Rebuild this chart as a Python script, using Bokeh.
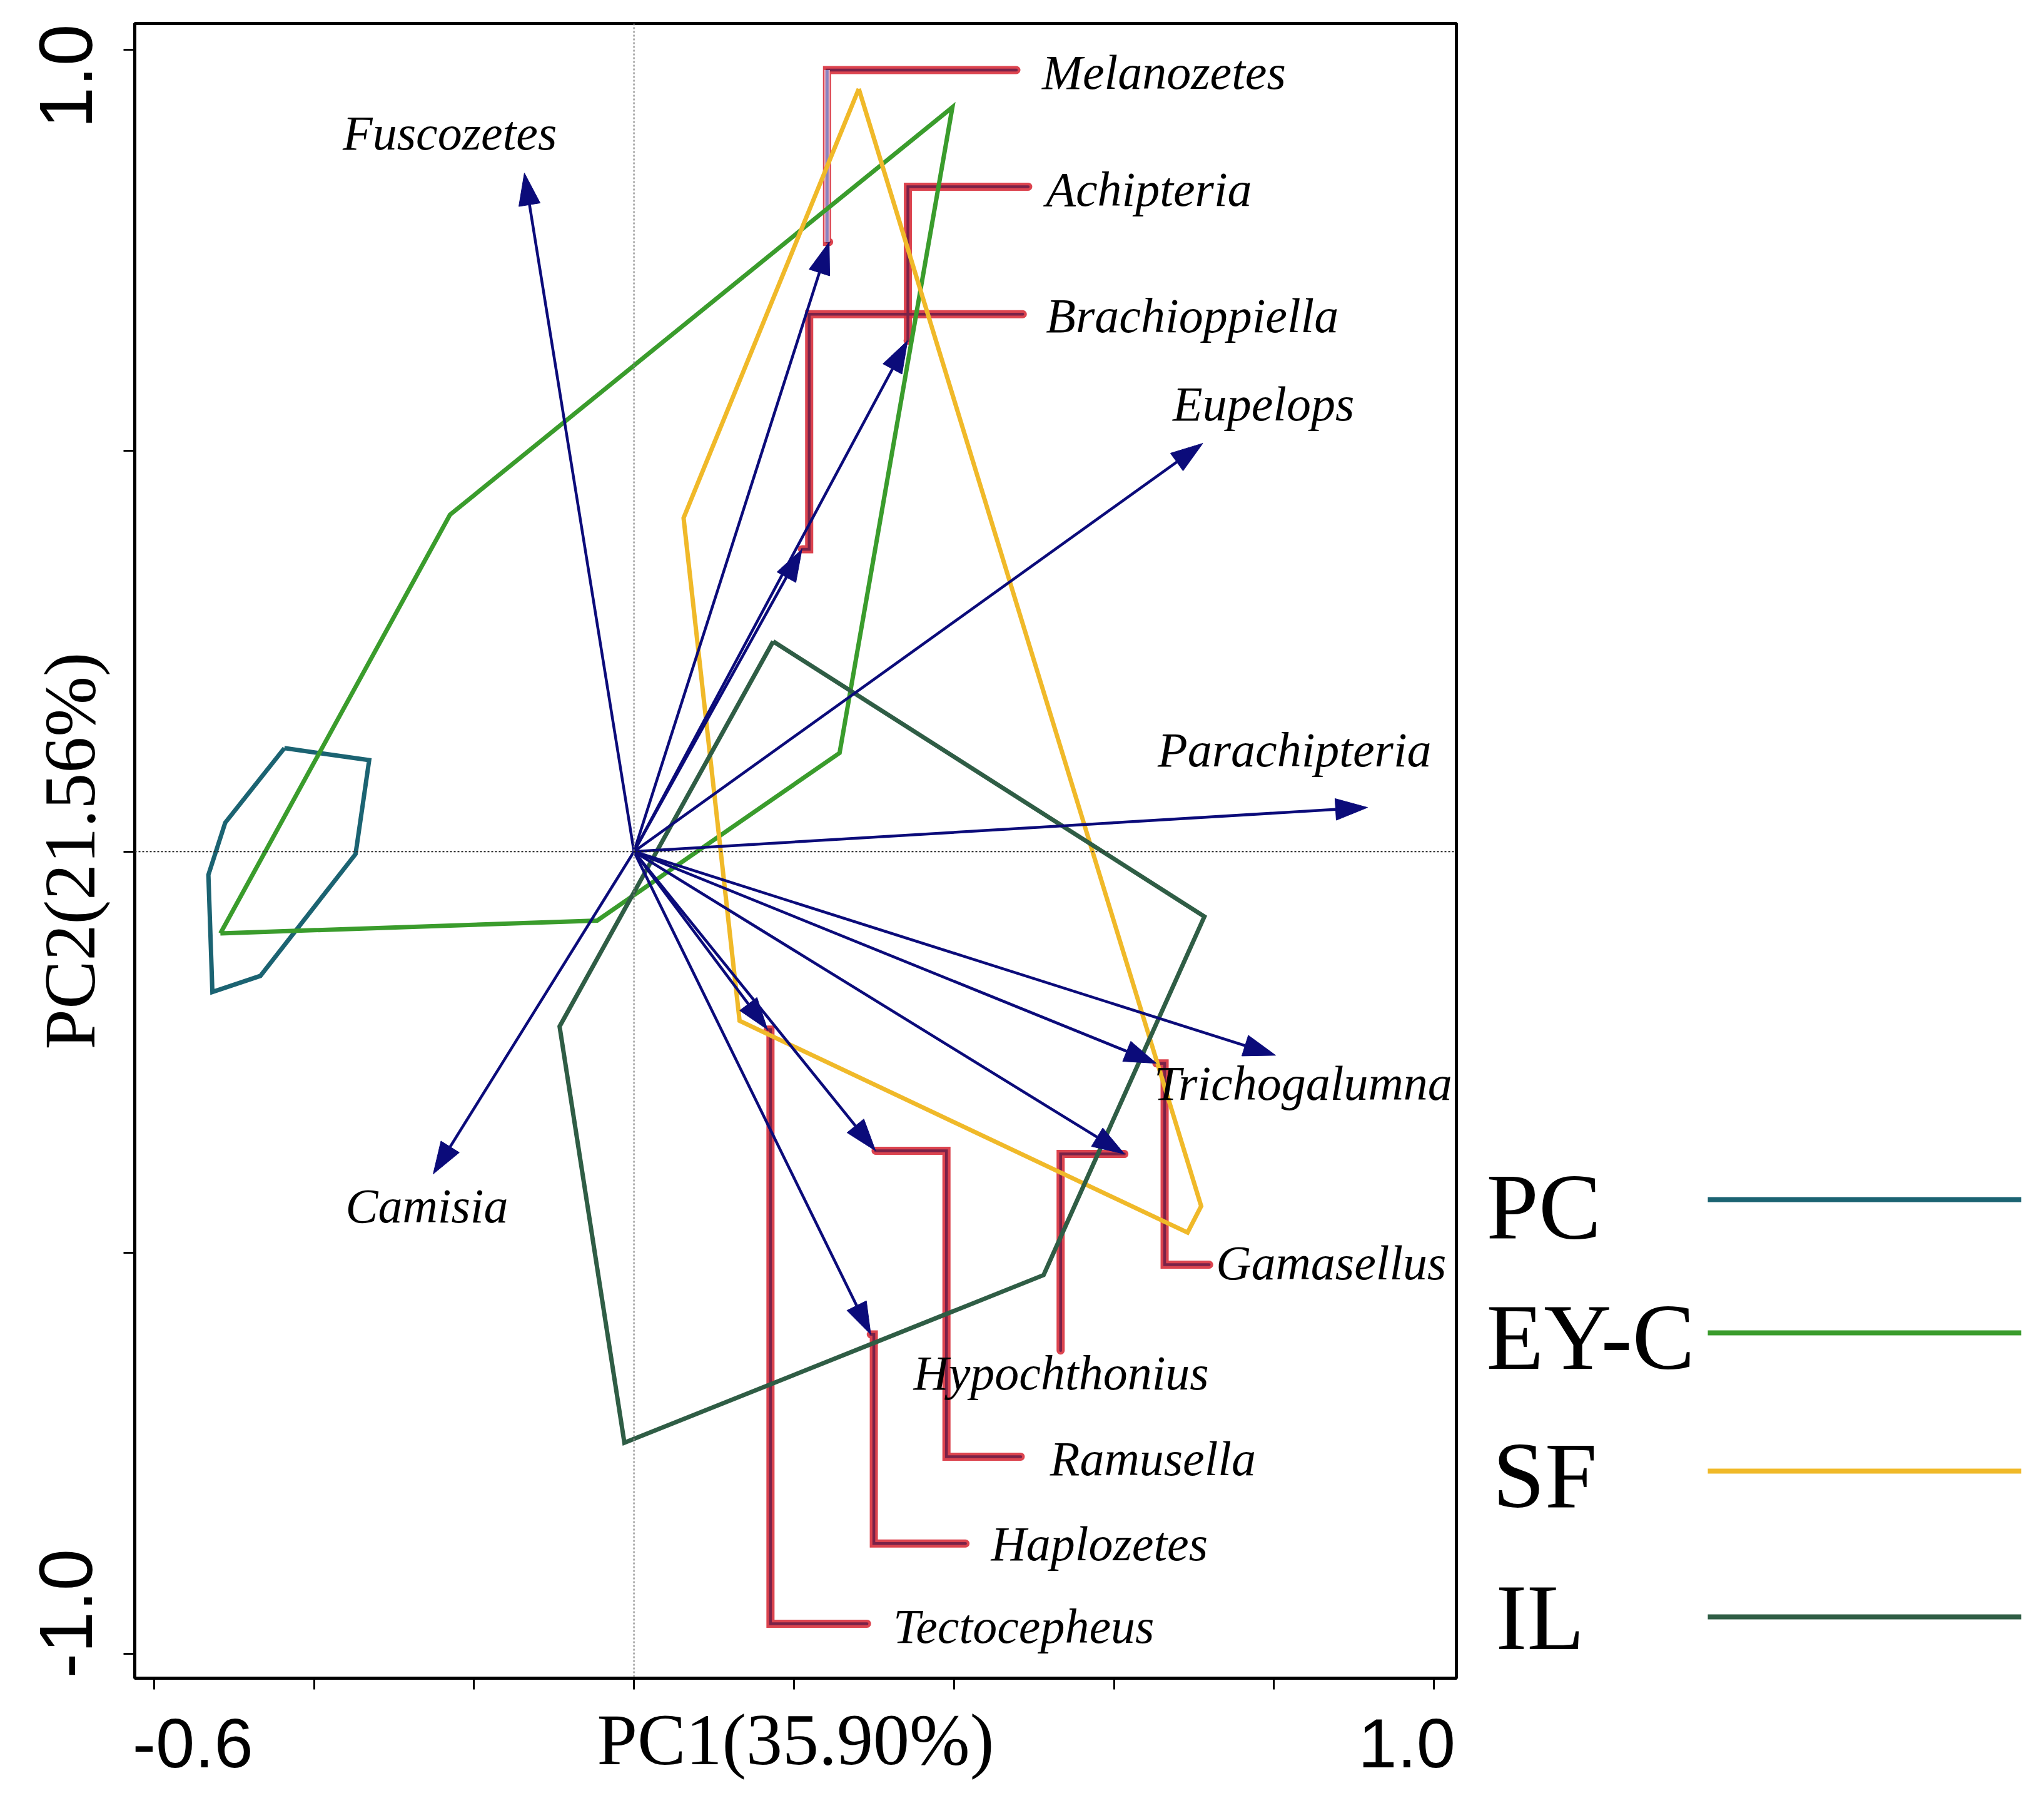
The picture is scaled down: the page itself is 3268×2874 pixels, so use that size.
import numpy as np
from bokeh.plotting import figure
from bokeh.layouts import row
from bokeh.models import (Range1d, FixedTicker, Span, LabelSet,
                          ColumnDataSource, LinearAxis)
from bokeh.core.properties import value
from bokeh.embed import file_html
from bokeh.resources import INLINE

# ---------------- data ----------------
species = ["Melanozetes", "Achipteria", "Brachioppiella", "Eupelops",
           "Parachipteria", "Trichogalumna", "Gamasellus", "Hypochthonius",
           "Ramusella", "Haplozetes", "Tectocepheus", "Camisia", "Fuscozetes"]
pc1 = [0.244, 0.342, 0.210, 0.711, 0.917, 0.802, 0.653, 0.613,
       0.302, 0.296, 0.167, -0.251, -0.137]
pc2 = [0.760, 0.637, 0.377, 0.509, 0.055, -0.254, -0.264, -0.377,
       -0.373, -0.602, -0.222, -0.402, 0.846]

groups = ["PC", "EY-C", "SF", "IL"]
group_colors = ["#1b6372", "#3a9c2c", "#f0b929", "#2f5d45"]
pc_hull_x = [-0.437, -0.331, -0.348, -0.467, -0.527, -0.532, -0.511]
pc_hull_y = [0.129, 0.114, -0.003, -0.155, -0.175, -0.029, 0.036]
eyc_hull_x = [-0.517, -0.230, 0.398, 0.257, -0.046]
eyc_hull_y = [-0.102, 0.420, 0.928, 0.123, -0.086]
sf_hull_x = [0.281, 0.709, 0.692, 0.132, 0.062]
sf_hull_y = [0.951, -0.442, -0.475, -0.211, 0.416]
il_hull_x = [0.174, 0.713, 0.512, -0.012, -0.093]
il_hull_y = [0.262, -0.081, -0.528, -0.737, -0.218]

x_ticks = [-0.6, -0.4, -0.2, 0.0, 0.2, 0.4, 0.6, 0.8, 1.0]
y_ticks = [-1.0, -0.5, 0.0, 0.5, 1.0]
x_tick_labels = ["-0.6", "1.0"]
y_tick_labels = ["1.0", "-1.0"]

# ---------------- label layout ----------------
x_label_pos = [-0.5515, 0.966]      # where the x tick texts sit
y_label_pos = [0.9666, -0.950]      # where the y tick texts sit
label_x = [0.510, 0.515, 0.515, 0.6735, 0.6547, 0.650, 0.7275, 0.3493,
           0.520, 0.4463, 0.324, -0.3606, -0.364]
label_y = [0.972, 0.826, 0.668, 0.558, 0.127, -0.289, -0.5125, -0.650,
           -0.757, -0.8627, -0.966, -0.442, 0.896]
# leader lines: species index, vertical column x, row y, end x
lead_idx = [0, 1, 2, 6, 7, 8, 9, 10]
lead_col = [0.2413, 0.3424, 0.219, 0.6633, 0.5333, 0.3906, 0.2998, 0.1706]
lead_row = [0.9744, 0.829, 0.670, -0.515, -0.622, -0.7544, -0.8627, -0.9627]
lead_end = [0.478, 0.4928, 0.486, 0.719, 0.5333, 0.4834, 0.4144, 0.2913]

# ---------------- main figure ----------------
BL, FW, BR = 215, 2113, 10
BT, FH, BB = 37, 2645, 175
MAIN_W = BL + FW + BR
p = figure(frame_width=FW, frame_height=FH,
           x_range=Range1d(-0.624, 1.028), y_range=Range1d(-1.0306, 1.0325),
           output_backend="svg", toolbar_location=None,
           min_border_left=BL, min_border_right=BR,
           min_border_top=BT, min_border_bottom=BB)
p.xgrid.visible = False
p.ygrid.visible = False
p.outline_line_color = "black"
p.outline_line_width = 5
p.outline_line_alpha = 1.0
p.background_fill_color = "white"
p.border_fill_color = "white"

# primary axes: tick marks only
for ax, ticks in ((p.xaxis[0], x_ticks), (p.yaxis[0], y_ticks)):
    ax.ticker = FixedTicker(ticks=ticks)
    ax.major_label_overrides = {t: "" for t in ticks}
    ax.major_label_text_font_size = "2px"
    ax.major_label_standoff = 0
    ax.minor_tick_line_color = None
    ax.major_tick_in = 0
    ax.major_tick_out = 18
    ax.major_tick_line_width = 3
    ax.major_tick_line_color = "black"
    ax.axis_line_width = 5
    ax.axis_line_color = "black"

# secondary axes: tick texts and axis titles
def label_axis(pos, texts, title, orient):
    a = LinearAxis(ticker=FixedTicker(ticks=pos),
                   major_label_overrides=dict(zip(pos, texts)))
    a.axis_line_color = None
    a.major_tick_line_color = None
    a.minor_tick_line_color = None
    a.major_tick_out = 0
    a.major_tick_in = 0
    a.major_label_text_font = "Liberation Sans"
    a.major_label_text_color = "black"
    a.major_label_orientation = orient
    a.axis_label = title
    a.axis_label_text_font = "Liberation Serif"
    a.axis_label_text_font_style = "normal"
    a.axis_label_text_font_size = "116px"
    a.axis_label_text_color = "black"
    return a

xax = label_axis(x_label_pos, x_tick_labels, "PC1(35.90%)", "horizontal")
xax.major_label_text_font_size = "112px"
xax.major_label_standoff = 47
xax.axis_label_standoff = -111
p.add_layout(xax, "below")

yax = label_axis(y_label_pos, y_tick_labels, "PC2(21.56%)", "vertical")
yax.major_label_text_font_size = "120px"
yax.major_label_standoff = 50
yax.axis_label_standoff = -114
p.add_layout(yax, "left")

# dotted zero lines
p.add_layout(Span(location=0, dimension="height", line_color="#808080",
                  line_width=2, line_dash="3 3"))
p.add_layout(Span(location=0, dimension="width", line_color="#202020",
                  line_width=2, line_dash="3 3"))

# leader lines
px = np.array(pc1)
py = np.array(pc2)
lead_xs, lead_ys = [], []
for i, cx, ry, ex in zip(lead_idx, lead_col, lead_row, lead_end):
    lead_xs.append([px[i], cx, cx, ex])
    lead_ys.append([py[i], py[i], ry, ry])
p.multi_line(lead_xs, lead_ys, line_color="#d8303c", line_width=13,
             line_cap="round", line_join="miter", line_alpha=0.9)
p.multi_line(lead_xs, lead_ys, line_color="#7a2248", line_width=4.5,
             line_cap="round", line_join="miter")
mi = lead_idx[0]
p.line([lead_col[0], lead_col[0]], [py[mi], lead_row[0]], line_color="#f2b0bc",
       line_width=9)
p.line([lead_col[0], lead_col[0]], [py[mi], lead_row[0]], line_color="#8a84c0",
       line_width=5)

# hulls
hulls = [(pc_hull_x, pc_hull_y), (eyc_hull_x, eyc_hull_y),
         (sf_hull_x, sf_hull_y), (il_hull_x, il_hull_y)]
for (hx, hy), col in zip(hulls, group_colors):
    p.line(hx + [hx[0]], hy + [hy[0]], line_color=col, line_width=7,
           line_join="miter")

# arrows
navy = "#0b0b7a"
norm = np.hypot(px, py)
dx, dy = px / norm, py / norm
L, W = 0.040, 0.0135
bx, by = px - L * dx, py - L * dy
nx, ny = -dy, dx
p.segment(x0=np.zeros_like(px), y0=np.zeros_like(py), x1=bx, y1=by,
          line_color=navy, line_width=4.5)
head_xs = [[px[i], bx[i] + W * nx[i], bx[i] - W * nx[i]] for i in range(len(px))]
head_ys = [[py[i], by[i] + W * ny[i], by[i] - W * ny[i]] for i in range(len(py))]
p.patches(head_xs, head_ys, fill_color=navy, line_color=navy, line_width=1)

# species labels
lsrc = ColumnDataSource(dict(x=label_x, y=label_y, text=species))
p.add_layout(LabelSet(x="x", y="y", text="text", source=lsrc,
                      text_font=value("Liberation Serif"),
                      text_font_style="italic", text_font_size="78px",
                      text_align="left", text_baseline="middle",
                      text_color="black"))

# ---------------- legend panel (right) ----------------
LEG_W = 3250 - MAIN_W
leg = figure(frame_width=LEG_W, frame_height=FH,
             x_range=Range1d(MAIN_W, 3250),
             y_range=Range1d(BT + FH, BT), output_backend="svg",
             toolbar_location=None, x_axis_location=None,
             y_axis_location=None, min_border_left=0, min_border_right=0,
             min_border_top=BT, min_border_bottom=BB)
leg.grid.visible = False
leg.outline_line_color = None
leg.background_fill_color = "white"
leg.border_fill_color = "white"

leg_text_x = [2376, 2376, 2386, 2391]
leg_text_y = [1928, 2136, 2357, 2584]
leg_line_x0 = [2730] * 4
leg_line_x1 = [3231] * 4
leg_line_y = [1917, 2130, 2351, 2584]
leg.text(x=leg_text_x, y=leg_text_y, text=groups,
         text_font=value("Liberation Serif"), text_font_size="150px",
         text_baseline="middle", text_align="left", text_color="black")
leg.segment(x0=leg_line_x0, y0=leg_line_y, x1=leg_line_x1, y1=leg_line_y,
            line_color=group_colors, line_width=8)

layout = row(p, leg)
open("out.html", "w").write(file_html(layout, INLINE))
